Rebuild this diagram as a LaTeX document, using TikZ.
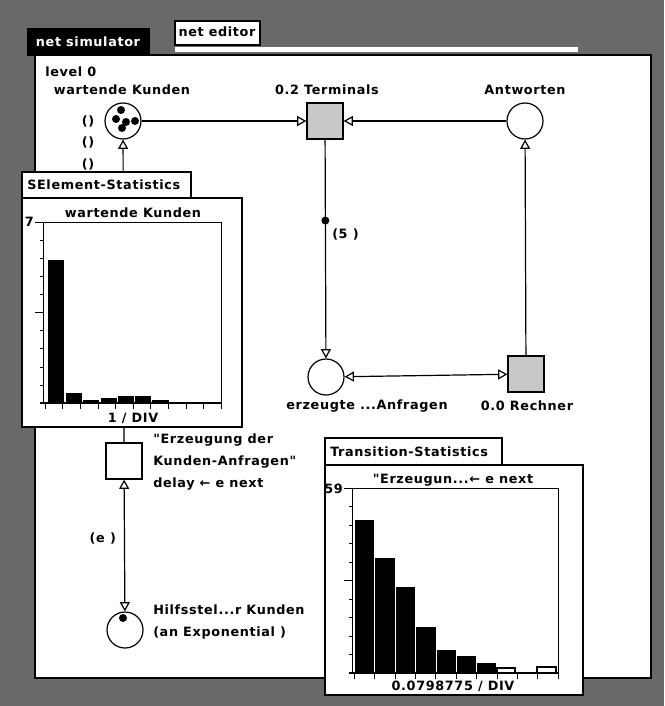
\documentclass[tikz,border=0pt]{standalone}
\usepackage{fontspec}
\newfontfamily\genf{DejaVu Sans}[LetterSpace=5]
\usetikzlibrary{arrows.meta}
\definecolor{frame}{RGB}{105,105,105}
\definecolor{dots}{RGB}{200,200,200}
\tikzset{
  net/.style={line width=0.9pt},
  arc/.style={net,-{Triangle[open,length=7pt,width=7.5pt]}},
  biarc/.style={net,{Triangle[open,length=7pt,width=7.5pt]}-{Triangle[open,length=7pt,width=7.5pt]}},
  place/.style={circle,draw,net,fill=white,minimum size=27pt,inner sep=0pt},
  trans/.style={rectangle,draw,net,fill=dots,minimum size=27pt,inner sep=0pt},
  token/.style={circle,fill=black,minimum size=6pt,inner sep=0pt},
  lbl/.style={font=\genf\fontsize{9.6}{11}\selectfont\bfseries,inner sep=0pt},
  win/.style={draw,fill=white,line width=1pt},
  bar/.style={fill=black,draw=black},
}
\begin{document}
\begin{tikzpicture}[x=0.75pt,y=-0.75pt]
\useasboundingbox (0,0) rectangle (664,706);
\fill[frame] (0,0) rectangle (664,706);

% tabs
\fill[black] (27,28) rectangle (150,56);
\node[lbl,text=white] (tsim) at (88,42) {net simulator};
\draw[fill=white,line width=0.8pt] (175,21) rectangle (260,45);
\node[lbl] (tedit) at (217,32) {net editor};
\fill[white] (175,47) rectangle (578,52);

% main window
\draw[fill=white,line width=1.2pt] (35,55) rectangle (651,678);
\node[lbl,anchor=west] (lev) at (45,72) {level 0};

% places and transitions
\node[place] (wk) at (123,121) {};
\node[token] at (121,110) {};
\node[token] at (116,119) {};
\node[token] at (126,122) {};
\node[token] at (135,121) {};
\node[token] at (122,128) {};
\node[trans] (term) at (325,121) {};
\node[place] (antw) at (525,121) {};
\node[place] (erz) at (326,377) {};
\node[trans] (rech) at (526,374) {};
\node[trans,fill=white] (erzg) at (124,461) {};
\node[place] (hilf) at (125,630) {};
\node[token] at (123,618) {};

\node[lbl] at (122,90) {wartende Kunden};
\node[lbl] at (327,90) {0.2 Terminals};
\node[lbl] at (525,90) {Antworten};
\node[lbl] at (367,406) {erzeugte ...Anfragen};
\node[lbl] at (527,406) {0.0 Rechner};
\node[lbl] at (88,121) {()};
\node[lbl] at (88,142) {()};
\node[lbl] at (88,164) {()};
\node[lbl,anchor=west] at (153,440) {"Erzeugung der};
\node[lbl,anchor=west] at (153,462) {Kunden-Anfragen"};
\node[lbl,anchor=west] at (153,484) {delay ← e next};
\node[lbl,anchor=west] at (153,610) {Hilfsstel...r Kunden};
\node[lbl,anchor=west] at (153,633) {(an Exponential )};

% arcs
\draw[arc] (wk) -- (term);
\draw[arc] (antw) -- (term);
\draw[arc] (term) -- (erz) coordinate[pos=0.37] (inh);
\fill (inh) circle (4);
\node[lbl,anchor=west] at (332,234) {(5 )};
\draw[arc] (rech) -- (antw);
\draw[biarc] (erz) -- (rech);
\draw[arc] (erzg) -- (wk);
\draw[biarc] (hilf) -- (erzg) node[lbl,pos=0.55,left=6pt] {(e )};

% SElement-Statistics
\draw[win] (22,172) rectangle (191,198);
\node[lbl,anchor=west] at (27,185) {SElement-Statistics};
\draw[win] (22,198) rectangle (242,427);
\node[lbl] at (133,213) {wartende Kunden};
\draw[line width=0.5pt] (43,222) rectangle (221,403);
\foreach \i in {0,...,10} \draw (43,{222+18.1*\i}) -- +(-3,0);
\draw (43,222) -- +(-8,0);
\draw (43,312.5) -- +(-8,0);
\foreach \i in {0,...,10} \draw ({45+17.6*\i},403) -- +(0,6);
\draw[line width=0.8pt] (40,403) -- (222,403);
\node[lbl,anchor=east] at (34,222) {7};
\draw[bar] (48,260) rectangle (63,403);
\draw[bar] (66,393) rectangle (81,403);
\draw[bar] (83,400) rectangle (98,403);
\draw[bar] (101,398) rectangle (116,403);
\draw[bar] (118,396) rectangle (133,403);
\draw[bar] (135,396) rectangle (150,403);
\draw[bar] (152,400) rectangle (168,403);
\node[lbl] at (133,418) {1 / DIV};

% Transition-Statistics
\draw[win] (325,438) rectangle (502,465);
\node[lbl,anchor=west] at (330,452) {Transition-Statistics};
\draw[win,line width=1.6pt] (325,465) rectangle (583,695);
\node[lbl] at (453,480) {"Erzeugun...← e next};
\draw[line width=0.5pt] (352,488) rectangle (558,673);
\foreach \i in {0,...,10} \draw (352,{488+18.5*\i}) -- +(-3,0);
\draw (352,488) -- +(-8,0);
\draw (352,580.5) -- +(-8,0);
\foreach \i in {0,...,10} \draw ({354+20.4*\i},673) -- +(0,6);
\draw[line width=0.8pt] (349,673) -- (558,673);
\node[lbl,anchor=east] at (343,489) {59};
\draw[bar] (355,520) rectangle (373,673);
\draw[bar] (375,558) rectangle (394,673);
\draw[bar] (396,587) rectangle (414,673);
\draw[bar] (416,627) rectangle (435,673);
\draw[bar] (437,650) rectangle (455,673);
\draw[bar] (457,656) rectangle (475,673);
\draw[bar] (477,663) rectangle (495,673);
\draw[fill=white,line width=1.2pt] (497,668) rectangle (515,673);
\draw[fill=white,line width=1.2pt] (537,667) rectangle (556,673);
\node[lbl] at (453,686) {0.0798775 / DIV};
\end{tikzpicture}
\end{document}
